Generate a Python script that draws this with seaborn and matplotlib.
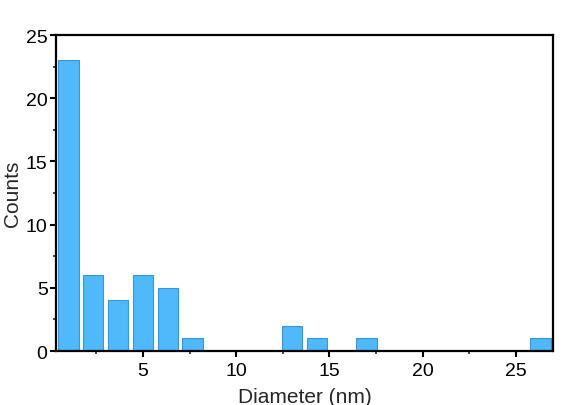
import seaborn as sns
import matplotlib.pyplot as plt
import pandas as pd
from matplotlib.ticker import MultipleLocator

# bin centres (nm) and counts, bin width 4/3 nm
bin_width = 4 / 3
centers = [1.0, 2.333, 3.667, 5.0, 6.333, 7.667, 13.0, 14.333, 17.0, 26.333]
counts = [23, 6, 4, 6, 5, 1, 2, 1, 1, 1]
x_ticks = [5, 10, 15, 20, 25]
y_ticks = [0, 5, 10, 15, 20, 25]

sns.set_theme(style="ticks")
plt.rcParams['font.family'] = ['Liberation Sans', 'DejaVu Sans']

df = pd.DataFrame({"diameter": centers, "count": counts})

fig = plt.figure(figsize=(5.71, 4.06), dpi=100)
ax = fig.add_axes([0.098, 0.133, 0.8705, 0.778])

sns.histplot(
    data=df, x="diameter", weights="count",
    binwidth=bin_width, binrange=(1 / 3, 27),
    shrink=0.82, color="#4FB9FC", edgecolor="#3A94D6",
    linewidth=0.8, alpha=1, ax=ax
)

ax.set_xlim(1 / 3, 27)
ax.set_ylim(0, 25)
ax.set_xticks(x_ticks)
ax.set_yticks(y_ticks)
ax.xaxis.set_minor_locator(MultipleLocator(2.5))
ax.yaxis.set_minor_locator(MultipleLocator(2.5))
ax.tick_params(which="major", direction="out", length=4, width=1.5,
               labelsize=14, colors="black", pad=2)
ax.tick_params(axis="x", which="major", pad=4)
ax.tick_params(which="minor", direction="out", length=2.5, width=1.2)
ax.tick_params(top=False, right=False, which="both")

for s in ax.spines.values():
    s.set_visible(True)
    s.set_linewidth(1.6)
    s.set_color("black")

ax.set_xlabel("Diameter (nm)", fontsize=15, labelpad=6)
ax.set_ylabel("Counts", fontsize=15, labelpad=3)

fig.savefig("out.png", dpi=100)
